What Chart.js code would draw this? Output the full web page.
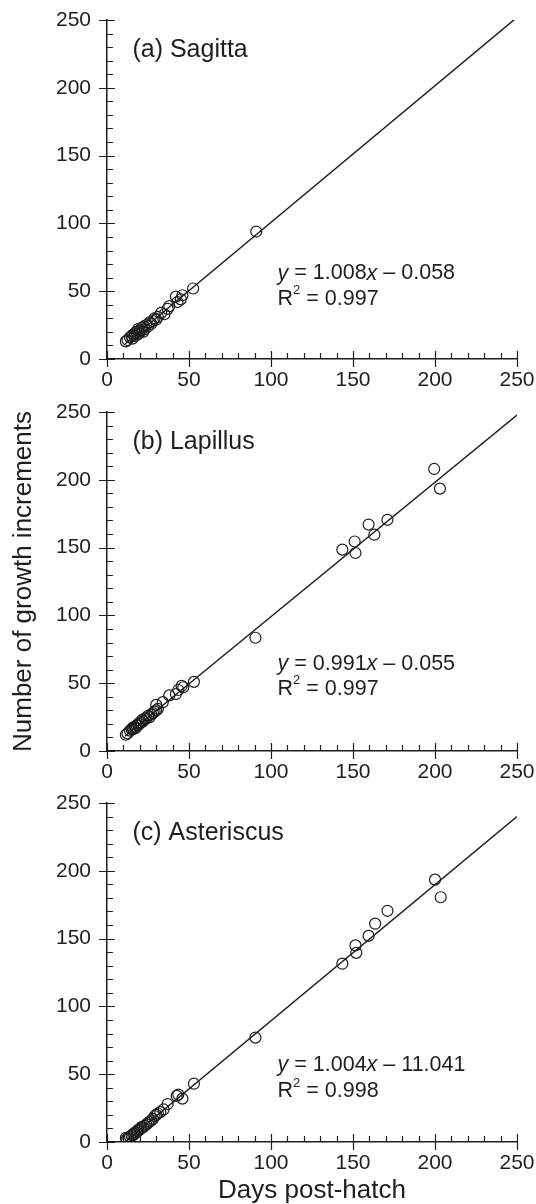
<!DOCTYPE html>
<html>
<head>
<meta charset="utf-8">
<script src="https://cdn.jsdelivr.net/npm/chart.js@4.4.1/dist/chart.umd.min.js"></script>
<style>
  html, body { margin: 0; padding: 0; background: #fff; }
  #wrap { position: relative; width: 536px; height: 1204px; }
  canvas { position: absolute; left: 0; }
</style>
</head>
<body>
<div id="wrap">
  <canvas id="chartA" width="536" height="392" style="top:0"></canvas>
  <canvas id="chartB" width="536" height="392" style="top:392px"></canvas>
  <canvas id="chartC" width="536" height="420" style="top:784px"></canvas>
</div>
<script>
// --- Data ---
const majorTicks = [0, 50, 100, 150, 200, 250];
const minorTicks = [0, 10, 20, 30, 40, 50, 60, 70, 80, 90, 100, 110, 120, 130, 140, 150,
                    160, 170, 180, 190, 200, 210, 220, 230, 240, 250];

// (a) Sagitta
const sagittaDays = [11.5, 12.5, 14, 15, 15.5, 16, 17, 17, 18, 18.5, 19, 19.5, 20, 21, 21, 22, 22.5, 23,
                     24, 25, 26, 27, 28, 29, 30, 31, 33, 35, 37, 38, 42, 43, 45, 46, 52.5, 91];
const sagittaIncrements = [13, 14, 16, 17, 15, 18, 17, 19, 20, 18, 22, 19, 21, 21, 23, 20, 24, 22,
                           25, 24, 27, 26, 28, 30, 29, 31, 34, 33, 37, 39, 46, 42, 44, 47, 52, 94];
const sagittaFitX = [11, 250];
const sagittaFitY = [11.03, 251.94];

// (b) Lapillus
const lapillusDays = [11.5, 12.5, 14, 15, 15.5, 16, 17, 17.5, 18, 19, 19.5, 20, 21, 21.5, 22, 23, 24,
                      25, 26, 27, 28, 29, 30, 30, 31, 34, 38, 42, 43.5, 45.5, 46.5, 53, 90.5,
                      143.5, 151, 151.5, 159.5, 163, 171, 199.5, 203];
const lapillusIncrements = [12, 13, 15, 16, 17, 16, 18, 17, 19, 19, 20, 21, 21, 23, 22, 24, 24,
                            26, 25, 27, 28, 29, 30, 34, 31, 36, 41, 42, 45, 48, 47, 51, 83.5,
                            148.5, 154.5, 146, 167, 159.5, 170.5, 208, 193.5];
const lapillusFitX = [11, 250];
const lapillusFitY = [10.85, 247.7];

// (c) Asteriscus
const asteriscusDays = [11.5, 12, 13, 14, 15, 16, 16.5, 17, 18, 18.5, 19, 20, 20.5, 21, 22, 23, 24, 25,
                        26, 27, 28, 29, 30, 31, 32.5, 34.5, 37, 42.5, 43.5, 46, 53, 90.5,
                        143.5, 151.5, 152, 159.5, 163.5, 171, 200, 203.5];
const asteriscusIncrements = [3, 2, 3, 4, 5, 5, 6, 7, 7, 8, 9, 9, 10, 11, 11, 12, 13, 14,
                              15, 16, 17, 19, 20, 21, 22, 24, 28, 34, 35, 32, 43, 77,
                              131.5, 145, 139.5, 152, 161, 170.5, 193.5, 180.5];
const asteriscusFitX = [11, 250];
const asteriscusFitY = [0.0, 239.96];

// --- Styling ---
const INK = '#1e1e1e';
const FONT = "'Liberation Sans', Arial, Helvetica, sans-serif";

function toPoints(xs, ys) {
    return xs.map((x, i) => ({ x: x, y: ys[i] }));
}

// Major ticks cross the axis, minor ticks point inward
const tickMarks = {
    id: 'tickMarks',
    afterDatasetsDraw(chart) {
        const { ctx, chartArea, scales: { x, y } } = chart;
        ctx.save();
        ctx.strokeStyle = INK;
        ctx.lineWidth = 1.2;
        ctx.beginPath();
        minorTicks.forEach(v => {
            const major = majorTicks.includes(v);
            const px = Math.round(x.getPixelForValue(v)) + 0.5;
            ctx.moveTo(px, chartArea.bottom + (major ? 8 : 0));
            ctx.lineTo(px, chartArea.bottom - (major ? 8 : 6));
            const py = Math.round(y.getPixelForValue(v)) + 0.5;
            ctx.moveTo(chartArea.left - (major ? 8 : 0), py);
            ctx.lineTo(chartArea.left + (major ? 8 : 6), py);
        });
        ctx.stroke();
        ctx.restore();
    }
};

function drawRuns(ctx, runs, x, y) {
    let cx = x;
    runs.forEach(r => {
        if (r.sup) {
            ctx.font = `13px ${FONT}`;
            ctx.fillText(r.text, cx, y - 8);
        } else {
            ctx.font = `${r.italic ? 'italic ' : ''}21.5px ${FONT}`;
            ctx.fillText(r.text, cx, y);
        }
        cx += ctx.measureText(r.text).width;
    });
}

// Panel label and regression text
const panelText = {
    id: 'panelText',
    afterDatasetsDraw(chart, args, opts) {
        const { ctx, scales: { x, y } } = chart;
        ctx.save();
        ctx.fillStyle = INK;
        ctx.textBaseline = 'middle';
        ctx.textAlign = 'left';
        ctx.font = `25px ${FONT}`;
        ctx.fillText(opts.label, x.getPixelForValue(opts.labelAt[0]), y.getPixelForValue(opts.labelAt[1]));
        drawRuns(ctx, opts.equation, x.getPixelForValue(opts.eqAt[0]), y.getPixelForValue(opts.eqAt[1]));
        drawRuns(ctx, opts.r2, x.getPixelForValue(opts.r2At[0]), y.getPixelForValue(opts.r2At[1]));
        ctx.restore();
    }
};

function buildPanel(canvasId, days, counts, fitX, fitY, text, layout) {
    new Chart(document.getElementById(canvasId), {
        type: 'scatter',
        data: {
            datasets: [
                {
                    type: 'line',
                    data: toPoints(fitX, fitY),
                    borderColor: INK,
                    borderWidth: 1.5,
                    pointRadius: 0,
                    fill: false,
                    order: 1
                },
                {
                    data: toPoints(days, counts),
                    pointStyle: 'circle',
                    pointRadius: 5.5,
                    borderWidth: 1.2,
                    borderColor: INK,
                    backgroundColor: 'rgba(0,0,0,0)',
                    order: 0
                }
            ]
        },
        options: {
            responsive: false,
            animation: false,
            devicePixelRatio: 1,
            layout: { padding: { top: layout.top, right: 19, bottom: 0, left: 0 } },
            plugins: {
                legend: { display: false },
                tooltip: { enabled: false },
                panelText: text
            },
            scales: {
                x: {
                    type: 'linear',
                    min: 0,
                    max: 250,
                    afterBuildTicks: s => { s.ticks = majorTicks.map(v => ({ value: v })); },
                    afterFit: s => {
                        s.height = layout.xHeight;
                        s.paddingLeft = 0;
                        s.paddingRight = 0;
                    },
                    ticks: { color: INK, font: { family: FONT, size: 21 }, padding: 9, maxRotation: 0 },
                    grid: { display: false, drawTicks: false },
                    border: { display: true, color: INK, width: 1.5 },
                    title: {
                        display: !!layout.xTitle,
                        text: layout.xTitle || '',
                        color: INK,
                        font: { family: FONT, size: 26, lineHeight: 1 },
                        padding: { top: 0, bottom: 0 }
                    }
                },
                y: {
                    type: 'linear',
                    min: 0,
                    max: 250,
                    afterBuildTicks: s => { s.ticks = majorTicks.map(v => ({ value: v })); },
                    afterFit: s => {
                        s.width = 107;
                        s.paddingTop = 0;
                        s.paddingBottom = 0;
                    },
                    ticks: { color: INK, font: { family: FONT, size: 21 }, padding: 16 },
                    grid: { display: false, drawTicks: false },
                    border: { display: true, color: INK, width: 1.5 },
                    title: {
                        display: !!layout.yTitle,
                        text: layout.yTitle || '',
                        color: INK,
                        font: { family: FONT, size: 26, lineHeight: 1.2 },
                        padding: { top: 8, bottom: 0 }
                    }
                }
            }
        },
        plugins: [tickMarks, panelText]
    });
}

buildPanel('chartA', sagittaDays, sagittaIncrements, sagittaFitX, sagittaFitY, {
    label: '(a) Sagitta', labelAt: [15.5, 228],
    equation: [{ text: 'y', italic: true }, { text: ' = 1.008' }, { text: 'x', italic: true }, { text: ' \u2013 0.058' }],
    eqAt: [104, 63],
    r2: [{ text: 'R' }, { text: '2', sup: true }, { text: ' = 0.997' }],
    r2At: [104, 44.4]
}, { top: 20, xHeight: 33 });

buildPanel('chartB', lapillusDays, lapillusIncrements, lapillusFitX, lapillusFitY, {
    label: '(b) Lapillus', labelAt: [15.5, 228],
    equation: [{ text: 'y', italic: true }, { text: ' = 0.991' }, { text: 'x', italic: true }, { text: ' \u2013 0.055' }],
    eqAt: [104, 64.3],
    r2: [{ text: 'R' }, { text: '2', sup: true }, { text: ' = 0.997' }],
    r2At: [104, 45.8]
}, { top: 20, xHeight: 33, yTitle: 'Number of growth increments' });

buildPanel('chartC', asteriscusDays, asteriscusIncrements, asteriscusFitX, asteriscusFitY, {
    label: '(c) Asteriscus', labelAt: [15.5, 228],
    equation: [{ text: 'y', italic: true }, { text: ' = 1.004' }, { text: 'x', italic: true }, { text: ' \u2013 11.041' }],
    eqAt: [104, 56.5],
    r2: [{ text: 'R' }, { text: '2', sup: true }, { text: ' = 0.998' }],
    r2At: [104, 37.6]
}, { top: 19, xHeight: 62, xTitle: 'Days post-hatch' });
</script>
</body>
</html>
